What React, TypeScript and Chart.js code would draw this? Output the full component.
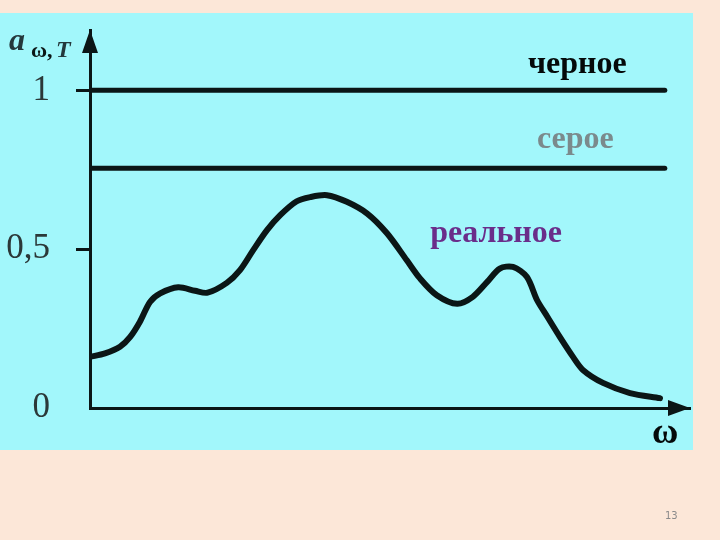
import React, { useEffect, useRef } from "react";
import { Chart, registerables } from "chart.js";

Chart.register(...registerables);

// ω values (arbitrary units along the axis)
const omega = [0, 2.5, 5, 6.7, 8.3, 10, 11.7, 14.7, 17.5, 19.6, 22.8, 25, 27.2, 29.5, 31.7, 34.4, 36.7, 39.5, 42.8, 46.2, 49.5, 52.8, 55, 57.8, 61.2, 63.8, 66.2, 68.3, 70.5, 72.8, 74.5, 76.2, 78.3, 80.5, 82.2, 85.5, 90, 95];
// real body absorptivity
const realAbs = [0.161, 0.172, 0.193, 0.224, 0.271, 0.334, 0.361, 0.38, 0.369, 0.363, 0.394, 0.434, 0.497, 0.56, 0.607, 0.65, 0.664, 0.67, 0.649, 0.612, 0.55, 0.465, 0.408, 0.355, 0.328, 0.35, 0.397, 0.439, 0.444, 0.413, 0.34, 0.288, 0.224, 0.161, 0.119, 0.079, 0.047, 0.031];
// black and grey bodies
const lineRange = [0, 95.8];
const blackAbs = 1;
const greyAbs = 0.755;

const yTicks = [0, 0.5, 1];
const yTickLabels = ["0", "0,5", "1"];

const seriesNames = ["черное", "серое", "реальное"];
const seriesNameColors = ["#050a0a", "#7b8a8c", "#6a2d8a"];
const seriesNameX = [73, 74.5, 56.7];
const seriesNameY = [1.055, 0.819, 0.523];

const xAxisLabel = "ω";
const yAxisLabelMain = "a";
const yAxisLabelSub = "ω,";
const yAxisLabelSub2 = "T";
const pageNumber = "13";

const BEIGE = "#fce7d8";
const CYAN = "#a2f7fb";
const INK = "#0b1616";

export default function App() {
  const ref = useRef<HTMLCanvasElement | null>(null);

  useEffect(() => {
    if (!ref.current) return;
    const decor = {
      id: "decor",
      beforeDraw(chart: any) {
        const c = chart.ctx;
        c.save();
        c.fillStyle = BEIGE;
        c.fillRect(0, 0, chart.width, chart.height);
        c.fillStyle = CYAN;
        c.fillRect(0, 13, 693, 437);
        c.restore();
      },
      afterDraw(chart: any) {
        const c = chart.ctx;
        const a = chart.chartArea;
        const xs = chart.scales.x;
        const ys = chart.scales.y;
        c.save();
        c.fillStyle = INK;
        // x arrow
        c.beginPath();
        c.moveTo(a.right, a.bottom);
        c.lineTo(a.right - 22, a.bottom - 8);
        c.lineTo(a.right - 22, a.bottom + 8);
        c.closePath();
        c.fill();
        // y arrow
        c.beginPath();
        c.moveTo(a.left, a.top);
        c.lineTo(a.left - 8, a.top + 23);
        c.lineTo(a.left + 8, a.top + 23);
        c.closePath();
        c.fill();

        // series names
        c.textBaseline = "alphabetic";
        c.textAlign = "left";
        c.font = "bold 32px 'Liberation Serif'";
        seriesNames.forEach((n, i) => {
          c.fillStyle = seriesNameColors[i];
          c.fillText(n, xs.getPixelForValue(seriesNameX[i]), ys.getPixelForValue(seriesNameY[i]));
        });

        // x axis label
        c.fillStyle = "#050a0a";
        c.font = "bold 36px 'Liberation Serif'";
        c.fillText(xAxisLabel, 652, 443);

        // y axis label
        c.fillStyle = "#24383c";
        c.font = "italic bold 32px 'Liberation Serif'";
        c.fillText(yAxisLabelMain, 9, 50);
        c.fillStyle = "#0b1616";
        c.font = "bold 22px 'Liberation Serif'";
        c.fillText(yAxisLabelSub, 31, 57);
        c.fillStyle = "#24383c";
        c.font = "italic bold 24px 'Liberation Serif'";
        c.fillText(yAxisLabelSub2, 56, 57);

        // page number
        c.fillStyle = "#8a8a8a";
        c.font = "10px 'DejaVu Sans'";
        c.fillText(pageNumber, 665, 519);
        c.restore();
      },
    };

    const chart = new Chart(ref.current, {
      type: "line",
      data: {
        datasets: [
          {
            label: seriesNames[0],
            data: lineRange.map((x) => ({ x, y: blackAbs })),
            borderColor: INK,
            borderWidth: 5,
            borderCapStyle: "round",
            pointRadius: 0,
          },
          {
            label: seriesNames[1],
            data: lineRange.map((x) => ({ x, y: greyAbs })),
            borderColor: INK,
            borderWidth: 5,
            borderCapStyle: "round",
            pointRadius: 0,
          },
          {
            label: seriesNames[2],
            data: omega.map((x, i) => ({ x, y: realAbs[i] })),
            borderColor: INK,
            borderWidth: 6,
            borderCapStyle: "round",
            borderJoinStyle: "round",
            tension: 0.3,
            pointRadius: 0,
          },
        ],
      },
      options: {
        animation: false,
        responsive: false,
        layout: { padding: { left: 0, right: 30, top: 30, bottom: 132 } },
        plugins: { legend: { display: false }, tooltip: { enabled: false } },
        scales: {
          x: {
            type: "linear",
            min: 0,
            max: 100,
            ticks: { display: false },
            grid: { display: false },
            border: { color: INK, width: 3 },
            afterFit: (s: any) => {
              s.height = 0;
              s.paddingLeft = 0;
              s.paddingRight = 0;
            },
          },
          y: {
            type: "linear",
            min: 0,
            max: 1.19,
            afterFit: (s: any) => {
              s.width = 90;
              s.paddingTop = 0;
              s.paddingBottom = 0;
            },
            afterBuildTicks: (s: any) => {
              s.ticks = yTicks.map((v) => ({ value: v }));
            },
            ticks: {
              callback: (v: any) => {
                const i = yTicks.indexOf(Number(v));
                return i >= 0 ? yTickLabels[i] : "";
              },
              font: { family: "'Liberation Serif'", size: 35 },
              color: "#2b3838",
              padding: 26,
            },
            grid: {
              drawOnChartArea: false,
              tickLength: 14,
              tickWidth: 3,
              tickColor: (ctx: any) => (ctx.tick && ctx.tick.value === 0 ? "rgba(0,0,0,0)" : INK),
            },
            border: { color: INK, width: 3 },
          },
        },
      },
      plugins: [decor],
    } as any);
    return () => chart.destroy();
  }, []);

  return (
    <div style={{ position: "absolute", left: 0, top: 0, width: 720, height: 540, background: BEIGE }}>
      <canvas ref={ref} width={720} height={540} style={{ display: "block" }} />
    </div>
  );
}
